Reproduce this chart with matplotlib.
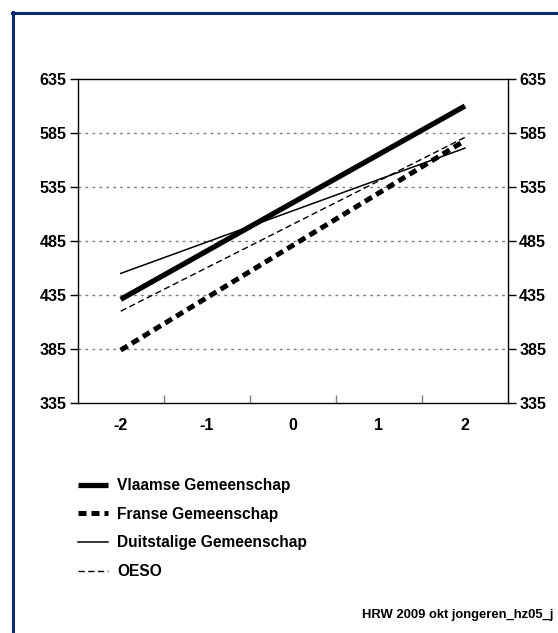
import matplotlib
matplotlib.use("Agg")
import matplotlib.pyplot as plt
from matplotlib.lines import Line2D
import numpy as np

plt.rcParams['font.family'] = ['Liberation Sans', 'DejaVu Sans']

x_vals = [-2, 2]
vlaamse = [431, 610]
franse = [384, 578]
duitstalige = [455, 571]
oeso = [420, 581]
labels = ["Vlaamse Gemeenschap", "Franse Gemeenschap", "Duitstalige Gemeenschap", "OESO"]
y_ticks = [335, 385, 435, 485, 535, 585, 635]
x_ticks = [-2, -1, 0, 1, 2]
footer = "HRW 2009 okt jongeren_hz05_j"

W, H = 558, 633
fig = plt.figure(figsize=(W/100, H/100), dpi=100)
ax = fig.add_axes([77.7/W, 1-403/H, (508-77.7)/W, (403-79)/H])

for y in y_ticks[1:-1]:
    ax.axhline(y, color='#7f7f7f', lw=1.0, ls=(0, (2, 3)), zorder=1)

l1, = ax.plot(x_vals, vlaamse, color='black', lw=3.8, solid_capstyle='butt', zorder=5)
l2, = ax.plot(x_vals, franse, color='black', lw=3.6, ls=(0, (1.6, 1.0)), dash_capstyle='butt', zorder=4)
l3, = ax.plot(x_vals, duitstalige, color='black', lw=1.1, zorder=3)
l4, = ax.plot(x_vals, oeso, color='black', lw=1.0, ls=(0, (4.5, 2.5)), zorder=3)

ax.set_xlim(-2.5, 2.5)
ax.set_ylim(335, 635)
ax.set_yticks(y_ticks)
ax.set_yticklabels([str(v) for v in y_ticks], fontsize=11.6, fontweight='bold')
ax.tick_params(axis='y', which='both', direction='out', length=6, width=1, left=True, right=True,
               labelleft=True, labelright=True, pad=2)
ax.set_xticks(x_ticks)
ax.set_xticklabels([str(v) for v in x_ticks], fontsize=11.6, fontweight='bold')
ax.tick_params(axis='x', which='major', length=0, pad=11)
ax.set_xticks([-1.5, -0.5, 0.5, 1.5], minor=True)
ax.tick_params(axis='x', which='minor', direction='in', length=6, width=1, color='#7f7f7f')
for s in ax.spines.values():
    s.set_linewidth(1.0)

fig.legend([l1, l2, l3, l4], labels, loc='upper left', bbox_to_anchor=(78/W, 1-478/H),
           frameon=False, prop={'size': 11.2, 'weight': 'bold'}, handlelength=1.95,
           handletextpad=0.55, labelspacing=0.88, borderpad=0, borderaxespad=0)

fig.text(553/W, 1-615/H, footer, ha='right', va='center', fontsize=9.4, fontweight='bold')

navy = '#0b2a6f'
fig.add_artist(Line2D([12.5/W, 12.5/W], [1-12/H, 0], transform=fig.transFigure, color=navy, lw=2.2))
fig.add_artist(Line2D([11.5/W, 1], [1-12.5/H, 1-12.5/H], transform=fig.transFigure, color=navy, lw=2.2))

fig.savefig("out.png", dpi=100)
